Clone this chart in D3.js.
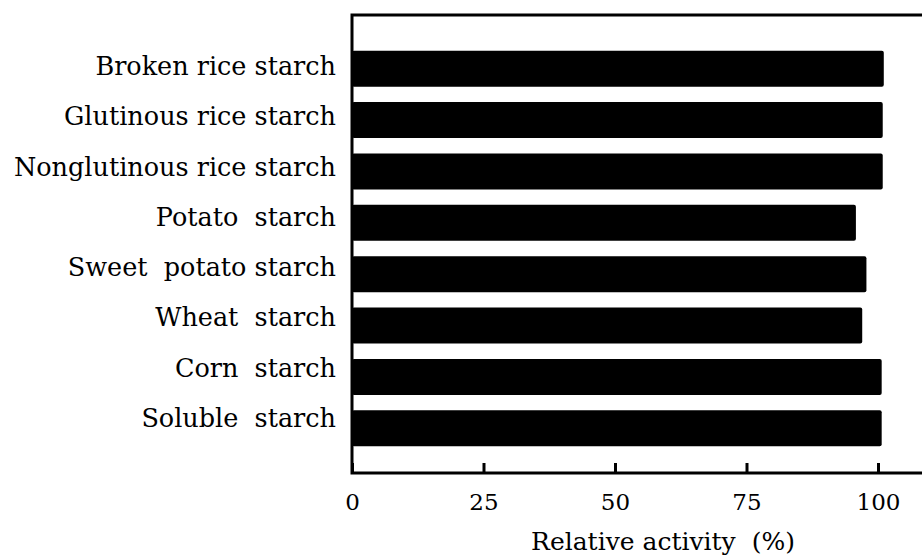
<!DOCTYPE html>
<html>
  <head>
    <style>
      body {
        margin: 0;
        background: #fff;
      }
      svg text {
        font-family: "DejaVu Serif", serif;
        fill: #000;
        white-space: pre;
      }
    </style>
  </head>
  <body>
    <script src="https://d3js.org/d3.v7.min.js"></script>
    <script>
    // starch substrates, top to bottom
      var substrates = ["Broken rice starch", "Glutinous rice starch", "Nonglutinous rice starch",
                        "Potato  starch", "Sweet  potato starch", "Wheat  starch",
                        "Corn  starch", "Soluble  starch"];
      var activity = [101.1, 100.9, 100.9, 95.8, 97.8, 97.0, 100.7, 100.7];
      var tick_values = [0, 25, 50, 75, 100];
      var x_title = "Relative activity  (%)";

      var width = 922, height = 555;
      var box = {left: 352, top: 15, bottom: 473};

      var svg = d3.select("body").append("svg")
          .attr("width", width)
          .attr("height", height);

    //scales
      var x_scale = d3.scaleLinear()
          .domain([0, 100])
          .range([box.left, 878]);
      var y_scale = d3.scaleBand()
          .domain(substrates)
          .range([43, 454])
          .paddingInner(0.3)
          .paddingOuter(0.15);
    //labels sit on a slightly tighter pitch than the bars
      var label_scale = d3.scalePoint()
          .domain(substrates)
          .range([75, 427]);

    //bars
      svg.selectAll("rect.bar")
          .data(substrates)
        .enter().append("rect")
          .attr("class", "bar")
          .attr("x", x_scale(0))
          .attr("y", d => y_scale(d))
          .attr("width", (d, i) => x_scale(activity[i]) - x_scale(0))
          .attr("height", y_scale.bandwidth())
          .attr("rx", 2)
          .attr("fill", "#000");

    //frame: top, left and bottom lines (right side runs off the page)
      svg.append("path")
          .attr("d", "M" + width + "," + box.top + "H" + box.left + "V" + box.bottom + "H" + width)
          .attr("fill", "none")
          .attr("stroke", "#000")
          .attr("stroke-width", 3);

    //x axis with inward ticks
      var x_axis = svg.append("g")
          .attr("transform", "translate(0," + box.bottom + ")")
          .call(d3.axisBottom(x_scale).tickValues(tick_values).tickSizeInner(-10).tickSizeOuter(0).tickPadding(21));
      x_axis.select(".domain").remove();
      x_axis.selectAll(".tick line").attr("stroke", "#000").attr("stroke-width", 3);
      x_axis.selectAll(".tick text")
          .attr("font-size", 23)
          .style("font-family", "'DejaVu Serif', serif");

    //category labels
      svg.selectAll("text.label")
          .data(substrates)
        .enter().append("text")
          .attr("class", "label")
          .attr("x", 336)
          .attr("y", d => label_scale(d))
          .attr("text-anchor", "end")
          .attr("font-size", 25.5)
          .text(d => d);

    //axis title
      svg.append("text")
          .attr("x", 663)
          .attr("y", 550)
          .attr("text-anchor", "middle")
          .attr("font-size", 25)
          .text(x_title);
    </script>
  </body>
</html>
